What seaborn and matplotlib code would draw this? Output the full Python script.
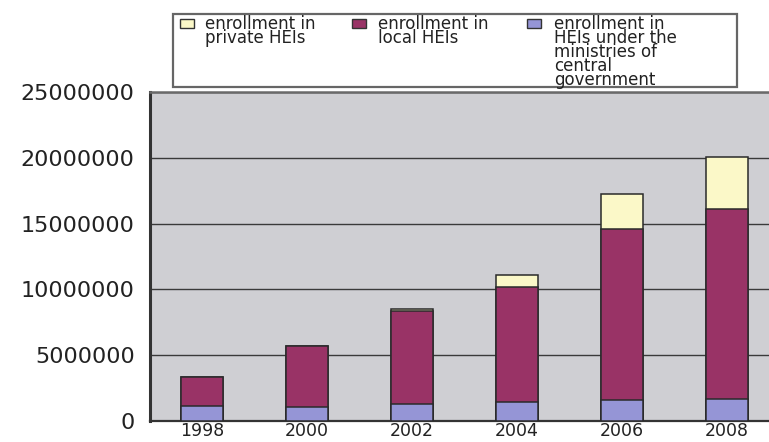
import numpy as np
import pandas as pd
import matplotlib
matplotlib.use("Agg")
import matplotlib.pyplot as plt
from matplotlib.patches import Rectangle
import seaborn as sns

# Enrollment by type of higher-education institution (students)
years = ["1998", "2000", "2002", "2004", "2006", "2008"]
central_gov = [1140000, 1050000, 1300000, 1480000, 1610000, 1690000]
local_heis = [2220000, 4630000, 7040000, 8710000, 12960000, 14400000]
private_heis = [0, 0, 200000, 870000, 2690000, 3980000]

labels = [
    "enrollment in\nprivate HEIs",
    "enrollment in\nlocal HEIs",
    "enrollment in\nHEIs under the\nministries of\ncentral\ngovernment",
]
colors = ["#fbf8c8", "#993366", "#9595d6"]
yticks = [0, 5000000, 10000000, 15000000, 20000000, 25000000]

sns.set_theme(style="white")
plt.rcParams["font.family"] = ["DejaVu Sans"]

df = pd.DataFrame({
    "year": years,
    "central": central_gov,
    "local": local_heis,
    "private": private_heis,
})
df["local_top"] = df["central"] + df["local"]
df["total"] = df["local_top"] + df["private"]

fig = plt.figure(figsize=(7.69, 4.42), dpi=100)
W, H = 769, 442
ax = fig.add_axes([150 / W, 21 / H, 629 / W, 329 / H])
ax.set_facecolor("#cfcfd3")

edge = "#2a2a2a"
# stacked bars drawn as overlapping cumulative layers
for col, c in [("total", colors[0]), ("local_top", colors[1]), ("central", colors[2])]:
    sns.barplot(data=df, x="year", y=col, color=c, saturation=1, width=0.4,
                edgecolor=edge, linewidth=1.1, ax=ax, zorder=3)

ax.set_xlim(-0.5, 5.5)
ax.set_ylim(0, 25000000)
ax.set_yticks(yticks)
ax.set_yticklabels([str(v) for v in yticks])
ax.set_xlabel("")
ax.set_ylabel("")
ax.yaxis.grid(True, color="#3a3a3a", linewidth=1.0, zorder=0)
ax.set_axisbelow(True)

ax.tick_params(axis="y", length=0, pad=11, labelsize=16, labelcolor="#222222")
ax.tick_params(axis="x", which="major", length=0, pad=1, labelsize=12.5, labelcolor="#222222")
ax.set_xticks(np.arange(0.5, 5.5, 1), minor=True)
ax.tick_params(axis="x", which="minor", direction="in", length=5, width=1.2, color="#333333")

for side, lw, col in [("left", 2.2, "#333333"), ("bottom", 1.6, "#333333"),
                      ("top", 1.8, "#6a6a6a"), ("right", 1.5, "#6a6a6a")]:
    ax.spines[side].set_visible(True)
    ax.spines[side].set_linewidth(lw)
    ax.spines[side].set_color(col)

# legend box above the plot
def fx(px):
    return px / W

def fy(py):
    return 1 - py / H

fig.patches.append(Rectangle((fx(173), fy(87)), fx(737) - fx(173), fy(14) - fy(87),
                             transform=fig.transFigure, facecolor="white",
                             edgecolor="#666666", linewidth=1.6, zorder=5))
handle_x = [180, 352, 527]
text_x = [205, 378, 554]
for hx, tx, lab, c in zip(handle_x, text_x, labels, colors):
    fig.patches.append(Rectangle((fx(hx), fy(28)), fx(14), 9 / H,
                                 transform=fig.transFigure, facecolor=c,
                                 edgecolor="#333333", linewidth=1.0, zorder=6))
    fig.text(fx(tx), fy(15), lab, ha="left", va="top", fontsize=12,
             linespacing=0.72, color="#222222", zorder=7)

fig.savefig("out.png", dpi=100)
